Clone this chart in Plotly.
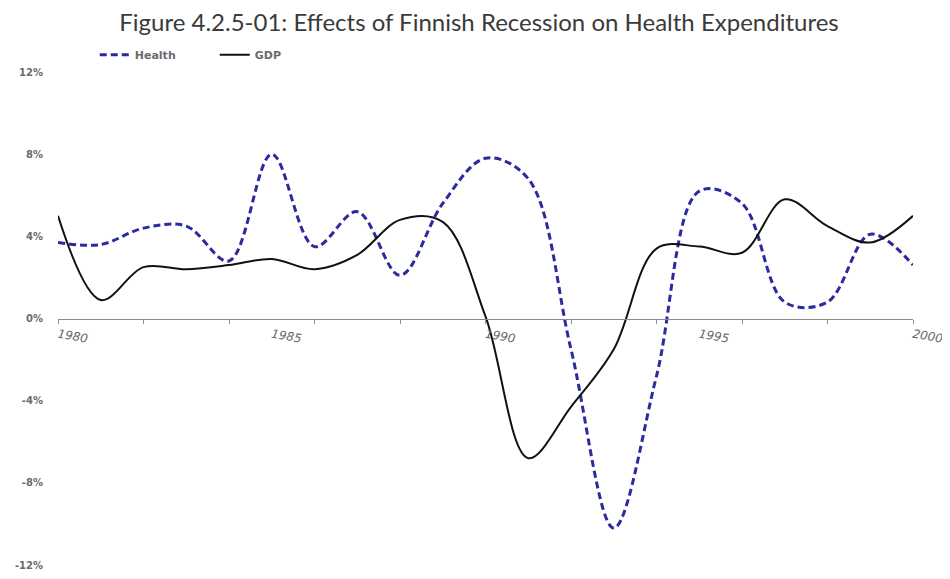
import plotly.graph_objects as go

years = list(range(1980, 2001))
health = [3.7, 3.6, 4.4, 4.5, 2.8, 8.0, 3.5, 5.2, 2.1, 5.6, 7.8, 6.8, -1.5, -10.2, -2.8, 6.2, 5.6, 0.8, 0.8, 4.1, 2.6]
gdp = [5.0, 0.9, 2.5, 2.4, 2.6, 2.9, 2.4, 3.1, 4.8, 4.7, 0.1, -6.8, -4.3, -1.5, 3.4, 3.5, 3.2, 5.8, 4.5, 3.7, 5.0]

y_ticks = [-12, -8, -4, 0, 4, 8, 12]
y_labels = ["-12%", "-8%", "-4%", "0%", "4%", "8%", "12%"]
x_label_years = [1980, 1985, 1990, 1995, 2000]
x_tick_years = list(range(1980, 2001, 2))

title = "Figure 4.2.5-01: Effects of Finnish Recession on Health Expenditures"

fig = go.Figure()
fig.add_trace(go.Scatter(x=years, y=health, name="Health", mode="lines",
                         line=dict(color="#2b2b9e", width=3, dash="7px,4px", shape="spline", smoothing=1)))
fig.add_trace(go.Scatter(x=years, y=gdp, name="GDP", mode="lines",
                         line=dict(color="#111111", width=2, shape="spline", smoothing=1)))
# overlay axis for the year labels
fig.add_trace(go.Scatter(x=[years[0], years[-1]], y=[None, None], xaxis="x2", showlegend=False, hoverinfo="skip"))

axis_font = dict(family="DejaVu Sans", size=10, color="#6b6b6b", weight="bold")

# the page adds an 8px body margin, so the figure is 8px smaller and margins are offset
fig.update_layout(
    width=942, height=571,
    paper_bgcolor="white", plot_bgcolor="white",
    margin=dict(l=50, r=37, t=64, b=14, autoexpand=False),
    title=dict(text=title, x=0.5, xanchor="center", y=0.974, yanchor="middle",
               font=dict(family="Lato", size=24, color="#3a3a3a")),
    legend=dict(orientation="h", x=0.043, xanchor="left", y=1.035, yanchor="middle",
                font=dict(family="DejaVu Sans", size=11, color="#6b6b6b", weight="bold"),
                itemwidth=30, entrywidth=75, entrywidthmode="pixels",
                tracegroupgap=0, bgcolor="rgba(0,0,0,0)"),
    xaxis=dict(range=[1980, 2000], anchor="free", position=0.5,
               showline=True, linecolor="#8c8c8c", linewidth=1,
               tickmode="array", tickvals=x_tick_years, ticktext=[""] * len(x_tick_years),
               ticks="outside", ticklen=4, tickcolor="#8c8c8c",
               showgrid=False, zeroline=False),
    xaxis2=dict(range=[1980, 2000], overlaying="x", anchor="free", position=0.5, side="bottom",
                tickmode="array", tickvals=x_label_years, ticktext=[str(v) for v in x_label_years],
                tickangle=10, ticks="", showline=False, showgrid=False, zeroline=False,
                ticklabelstandoff=6,
                tickfont=dict(family="DejaVu Sans", size=12, color="#666666", style="italic")),
    yaxis=dict(range=[-12, 12], tickmode="array", tickvals=y_ticks, ticktext=y_labels,
               showline=False, showgrid=False, zeroline=False, ticks="",
               ticklabelstandoff=14, tickfont=axis_font),
    showlegend=True,
)

fig.write_html("out.html")
